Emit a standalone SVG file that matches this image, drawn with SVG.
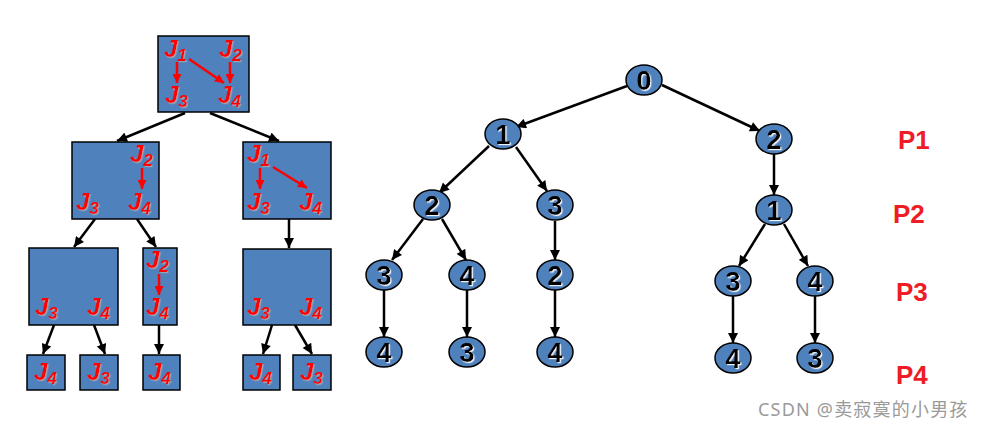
<svg xmlns="http://www.w3.org/2000/svg" width="986" height="429" viewBox="0 0 986 429">
<style>
.box{fill:#4f81bd;stroke:#000;stroke-width:1.5}
.ell{fill:#4f81bd;stroke:#000;stroke-width:1.5}
.j{font-family:"Liberation Sans",Arial,sans-serif;font-style:italic;font-weight:bold;font-size:24px;fill:#ff0000;filter:url(#sh)}
.sub{font-size:17px}
.num{font-family:"Liberation Sans",Arial,sans-serif;font-weight:bold;font-size:27px;fill:#000;text-anchor:middle;filter:url(#wsh)}
.red{stroke:#ff0000;stroke-width:2.5;fill:none;marker-end:url(#ra)}
.blk{stroke:#000;stroke-width:2.5;fill:none;marker-end:url(#ba)}
.p{font-family:"Liberation Sans",Arial,sans-serif;font-weight:bold;font-size:26px;fill:#ee1c25}
.wm{font-family:"Noto Sans","Noto Sans CJK SC",sans-serif;font-size:18px;fill:#9a9a9a;letter-spacing:1.2px}
</style>
<defs>
<marker id="ra" viewBox="0 0 10 10" refX="10" refY="5" markerWidth="10" markerHeight="9" markerUnits="userSpaceOnUse" orient="auto"><path d="M0,0L10,5L0,10z" fill="#ff0000"/></marker>
<marker id="ba" viewBox="0 0 10 10" refX="10" refY="5" markerWidth="12" markerHeight="10" markerUnits="userSpaceOnUse" orient="auto"><path d="M0,0L10,5L0,10z" fill="#000"/></marker>
<filter id="sh" x="-20%" y="-20%" width="150%" height="150%"><feDropShadow dx="1.2" dy="1.2" stdDeviation="0.5" flood-color="#9aa3b0" flood-opacity="1"/></filter>
<filter id="wsh" x="-20%" y="-20%" width="150%" height="150%"><feDropShadow dx="1.2" dy="1.2" stdDeviation="0.3" flood-color="#ffffff" flood-opacity="0.9"/></filter>
</defs>
<rect width="986" height="429" fill="#fff"/>

<g id="connectors">
<line class="blk" x1="185" y1="113" x2="117" y2="141"/>
<line class="blk" x1="210" y1="113" x2="279" y2="141"/>
<line class="blk" x1="95" y1="219" x2="74" y2="247"/>
<line class="blk" x1="137" y1="219" x2="156" y2="247"/>
<line class="blk" x1="289" y1="219" x2="289" y2="248"/>
<line class="blk" x1="54" y1="325" x2="43" y2="354"/>
<line class="blk" x1="94" y1="325" x2="105" y2="354"/>
<line class="blk" x1="159" y1="325" x2="159" y2="354"/>
<line class="blk" x1="272" y1="325" x2="263" y2="354"/>
<line class="blk" x1="295" y1="325" x2="312" y2="354"/>

<line class="blk" x1="627" y1="86" x2="516" y2="127"/>
<line class="blk" x1="662" y1="85" x2="760" y2="131"/>
<line class="blk" x1="489" y1="146" x2="439" y2="193"/>
<line class="blk" x1="516" y1="147" x2="547" y2="191"/>
<line class="blk" x1="774" y1="154" x2="774" y2="195"/>
<line class="blk" x1="423" y1="219" x2="392" y2="260"/>
<line class="blk" x1="442" y1="219" x2="466" y2="260"/>
<line class="blk" x1="555" y1="221" x2="555" y2="260"/>
<line class="blk" x1="765" y1="224" x2="739" y2="266"/>
<line class="blk" x1="784" y1="224" x2="808" y2="266"/>
<line class="blk" x1="384" y1="290" x2="384" y2="337"/>
<line class="blk" x1="467" y1="290" x2="467" y2="337"/>
<line class="blk" x1="555" y1="290" x2="555" y2="337"/>
<line class="blk" x1="733" y1="296" x2="733" y2="343"/>
<line class="blk" x1="815" y1="296" x2="815" y2="343"/>
</g>

<!-- left tree -->
<g id="s-root">
<rect class="box" x="158" y="36" width="91" height="76"/>
<text class="j" x="164" y="57">J<tspan class="sub" dy="4">1</tspan></text>
<text class="j" x="219" y="57">J<tspan class="sub" dy="4">2</tspan></text>
<text class="j" x="165" y="103">J<tspan class="sub" dy="4">3</tspan></text>
<text class="j" x="218" y="103">J<tspan class="sub" dy="4">4</tspan></text>
<line class="red" x1="177" y1="62" x2="177" y2="83"/>
<line class="red" x1="230" y1="62" x2="230" y2="83"/>
<line class="red" x1="189" y1="59" x2="224" y2="83"/>
</g>
<g id="s-l">
<rect class="box" x="72" y="142" width="87" height="77"/>
<text class="j" x="130" y="162">J<tspan class="sub" dy="4">2</tspan></text>
<line class="red" x1="142" y1="168" x2="142" y2="189"/>
<text class="j" x="76" y="210">J<tspan class="sub" dy="4">3</tspan></text>
<text class="j" x="128" y="210">J<tspan class="sub" dy="4">4</tspan></text>
</g>
<g id="s-r">
<rect class="box" x="243" y="142" width="88" height="77"/>
<text class="j" x="247" y="162">J<tspan class="sub" dy="4">1</tspan></text>
<line class="red" x1="260" y1="168" x2="260" y2="189"/>
<line class="red" x1="273" y1="167" x2="307" y2="188"/>
<text class="j" x="247" y="210">J<tspan class="sub" dy="4">3</tspan></text>
<text class="j" x="299" y="210">J<tspan class="sub" dy="4">4</tspan></text>
</g>
<g id="s-ll">
<rect class="box" x="29" y="248" width="89" height="77"/>
<text class="j" x="35" y="315">J<tspan class="sub" dy="4">3</tspan></text>
<text class="j" x="87" y="315">J<tspan class="sub" dy="4">4</tspan></text>
</g>
<g id="s-lr">
<rect class="box" x="143" y="248" width="34" height="77"/>
<text class="j" x="146" y="268">J<tspan class="sub" dy="4">2</tspan></text>
<line class="red" x1="159" y1="274" x2="159" y2="295"/>
<text class="j" x="146" y="315">J<tspan class="sub" dy="4">4</tspan></text>
</g>
<g id="s-rr">
<rect class="box" x="243" y="249" width="88" height="76"/>
<text class="j" x="247" y="315">J<tspan class="sub" dy="4">3</tspan></text>
<text class="j" x="299" y="315">J<tspan class="sub" dy="4">4</tspan></text>
</g>
<g id="s-lll">
<rect class="box" x="27" y="355" width="38" height="35"/>
<text class="j" x="34" y="380">J<tspan class="sub" dy="4">4</tspan></text>
</g>
<g id="s-llr">
<rect class="box" x="80" y="355" width="38" height="35"/>
<text class="j" x="87" y="380">J<tspan class="sub" dy="4">3</tspan></text>
</g>
<g id="s-lrl">
<rect class="box" x="143" y="355" width="37" height="35"/>
<text class="j" x="148" y="380">J<tspan class="sub" dy="4">4</tspan></text>
</g>
<g id="s-rrl">
<rect class="box" x="243" y="355" width="37" height="35"/>
<text class="j" x="249" y="380">J<tspan class="sub" dy="4">4</tspan></text>
</g>
<g id="s-rrr">
<rect class="box" x="293" y="355" width="38" height="35"/>
<text class="j" x="300" y="380">J<tspan class="sub" dy="4">3</tspan></text>
</g>

<!-- right tree -->
<g id="n0"><ellipse class="ell" cx="644" cy="80" rx="18" ry="15"/><text class="num" x="644" y="90">0</text></g>
<g id="n1"><ellipse class="ell" cx="503" cy="134" rx="18" ry="15"/><text class="num" x="503" y="144">1</text></g>
<g id="n2"><ellipse class="ell" cx="774" cy="139" rx="18" ry="15"/><text class="num" x="774" y="149">2</text></g>
<g id="n12"><ellipse class="ell" cx="432" cy="205" rx="18" ry="15"/><text class="num" x="432" y="215">2</text></g>
<g id="n13"><ellipse class="ell" cx="555" cy="205" rx="18" ry="15"/><text class="num" x="555" y="215">3</text></g>
<g id="n21"><ellipse class="ell" cx="774" cy="210" rx="18" ry="15"/><text class="num" x="774" y="220">1</text></g>
<g id="n123"><ellipse class="ell" cx="384" cy="275" rx="18" ry="15"/><text class="num" x="384" y="285">3</text></g>
<g id="n124"><ellipse class="ell" cx="467" cy="275" rx="18" ry="15"/><text class="num" x="467" y="285">4</text></g>
<g id="n132"><ellipse class="ell" cx="555" cy="275" rx="18" ry="15"/><text class="num" x="555" y="285">2</text></g>
<g id="n213"><ellipse class="ell" cx="733" cy="281" rx="18" ry="15"/><text class="num" x="733" y="291">3</text></g>
<g id="n214"><ellipse class="ell" cx="815" cy="281" rx="18" ry="15"/><text class="num" x="815" y="291">4</text></g>
<g id="n1234"><ellipse class="ell" cx="384" cy="352" rx="18" ry="15"/><text class="num" x="384" y="362">4</text></g>
<g id="n1243"><ellipse class="ell" cx="467" cy="352" rx="18" ry="15"/><text class="num" x="467" y="362">3</text></g>
<g id="n1324"><ellipse class="ell" cx="555" cy="352" rx="18" ry="15"/><text class="num" x="555" y="362">4</text></g>
<g id="n2134"><ellipse class="ell" cx="733" cy="358" rx="18" ry="15"/><text class="num" x="733" y="368">4</text></g>
<g id="n2143"><ellipse class="ell" cx="815" cy="358" rx="18" ry="15"/><text class="num" x="815" y="368">3</text></g>

<g id="levels">
<text class="p" x="898" y="149">P1</text>
<text class="p" x="893" y="223">P2</text>
<text class="p" x="896" y="301">P3</text>
<text class="p" x="896" y="384">P4</text>
</g>
<text class="wm" x="758" y="416">CSDN @卖寂寞的小男孩</text>
</svg>
